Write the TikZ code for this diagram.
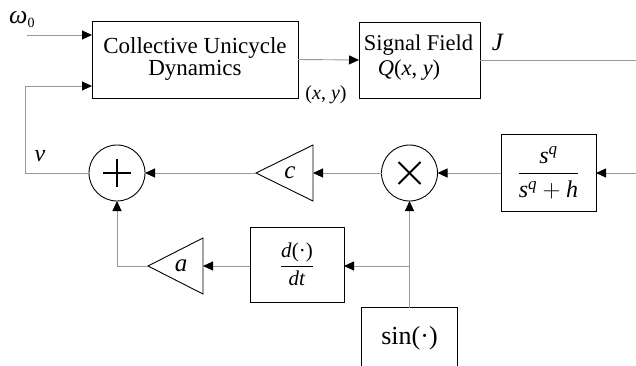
\documentclass[tikz,border=0pt]{standalone}
\usepackage{amsmath}
\usepackage{fontspec}
\setmainfont{Liberation Serif}
\usetikzlibrary{arrows.meta}
\begin{document}
\begin{tikzpicture}[x=1pt,y=-1pt,
  blk/.style={draw=black, line width=0.9pt, inner sep=0pt, outer sep=0pt},
  conn/.style={draw=black!40, line width=0.9pt},
  arr/.style={conn, -{Triangle[length=10pt,width=9pt,color=black]}},
  lbl/.style={inner sep=0pt, font=\fontsize{22}{22}\selectfont},
  sym/.style={line width=2pt, line cap=butt}
]
\useasboundingbox (0,0) rectangle (636,366);

% blocks
\node[blk, minimum width=206pt, minimum height=77pt, align=center,
      font=\fontsize{23}{22}\selectfont] (coll) at (195,59.5) {Collective Unicycle\\Dynamics};
\node[blk, minimum width=121pt, minimum height=76pt] (sig) at (419.5,60) {};
\node[lbl, font=\fontsize{22.5}{22}\selectfont] (sigt1) at (418.5,45) {Signal Field};
\node[lbl, font=\fontsize{22.5}{22}\selectfont] (sigt2) at (409,70) {\textit{Q}(\textit{x}, \textit{y})};

\node[blk, minimum width=95pt, minimum height=77pt, font=\fontsize{24}{24}\selectfont] (sbox) at (548.5,172.5)
  {$\dfrac{\mbox{\textit{s}}^{\mbox{\fontsize{17}{17}\selectfont\textit{q}}}}{\mbox{\textit{s}}^{\mbox{\fontsize{17}{17}\selectfont\textit{q}}}+\mbox{\textit{h}}}$};
\node[blk, minimum width=94pt, minimum height=75pt, font=\fontsize{21}{21}\selectfont] (ddt) at (297,264.5)
  {$\dfrac{\mbox{\textit{d}(·)}}{\mbox{\textit{dt}}}$};
\node[inner sep=0pt, minimum width=95pt, minimum height=58pt] (sinb) at (409.5,337) {};
\node[lbl, font=\fontsize{26}{26}\selectfont] (sint) at (409.5,338) {sin(·)};
\draw[blk] (sinb.south west) -- (sinb.north west) -- (sinb.north east) -- (sinb.south east);

% summing junctions
\node[blk, circle, minimum size=56pt] (sum) at (117,173) {};
\draw[sym] ([xshift=-14pt]sum.center) -- ([xshift=14pt]sum.center);
\draw[sym] ([yshift=-14pt]sum.center) -- ([yshift=14pt]sum.center);
\node[blk, circle, minimum size=56pt] (mult) at (409.5,173) {};
\draw[sym] ([shift={(-11pt,-11pt)}]mult.center) -- ([shift={(11pt,11pt)}]mult.center);
\draw[sym] ([shift={(-11pt,11pt)}]mult.center) -- ([shift={(11pt,-11pt)}]mult.center);

% gain triangles
\coordinate (ctip) at (256,173);
\coordinate (cbase) at (313,173);
\draw[blk] (ctip) -- (313,145) -- (313,201) -- cycle;
\node[lbl, font=\fontsize{25}{25}\selectfont] (clab) at (290,173) {\textit{c}};
\coordinate (atip) at (148,266);
\coordinate (abase) at (203,266);
\draw[blk] (atip) -- (203,238) -- (203,294) -- cycle;
\node[lbl, font=\fontsize{25}{25}\selectfont] (alab) at (181,266) {\textit{a}};

% labels
\node[lbl, anchor=west, font=\fontsize{26}{26}\selectfont] (w0) at (9,19) {\textit{ω}\raisebox{-4pt}{\fontsize{14}{14}\selectfont 0}};
\node[lbl, font=\fontsize{24}{24}\selectfont] (vlab) at (40,156) {\textit{v}};
\node[lbl, font=\fontsize{20}{20}\selectfont] (xylab) at (326,95) {(\textit{x}, \textit{y})};
\node[lbl, font=\fontsize{25}{25}\selectfont] (Jlab) at (498,42) {\textit{J}};

% connectors
\coordinate (win) at (27,35);
\draw[arr] (win) -- (win -| coll.west);
\coordinate (fb) at (25,173);
\coordinate (fbtop) at (25,86);
\draw[arr] (sum.west) -- (fb) -- (fbtop) -- (fbtop -| coll.west);
\draw[arr] (coll.east) -- (sig.west);
\coordinate (Jout) at (636,60);
\draw[conn] (sig.east) -- (Jout);
\coordinate (rin) at (636,173);
\draw[arr] (rin) -- (sbox.east |- rin);
\draw[arr] (sbox.west |- mult) -- (mult.east);
\draw[arr] (mult.west) -- (cbase);
\draw[arr] (ctip) -- (sum.east);
\draw[arr] (sinb.north) -- (mult.south);
\coordinate (j) at (409.5,266);
\draw[arr] (j) -- (ddt.east |- j);
\draw[arr] (ddt.west |- abase) -- (abase);
\coordinate (acorner) at (117,266);
\draw[arr] (atip) -- (acorner) -- (sum.south);
\end{tikzpicture}
\end{document}
